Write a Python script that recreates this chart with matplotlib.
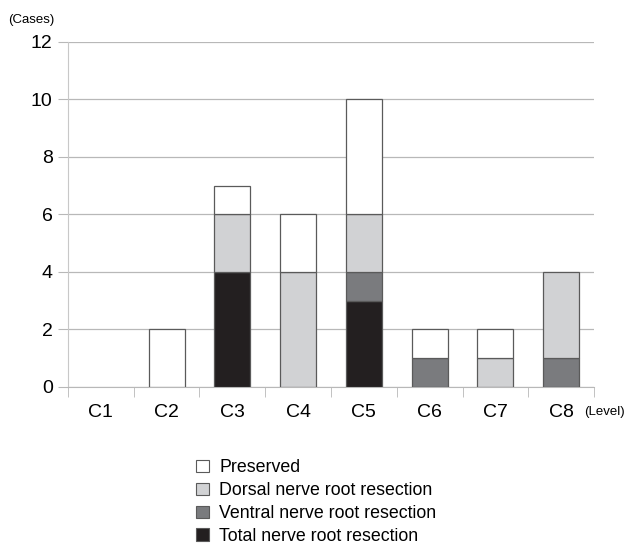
import matplotlib.pyplot as plt
from matplotlib.patches import Patch
import numpy as np

plt.rcParams['font.family'] = ['Liberation Sans', 'DejaVu Sans']

levels = ['C1', 'C2', 'C3', 'C4', 'C5', 'C6', 'C7', 'C8']
total = [0, 0, 4, 0, 3, 0, 0, 0]
ventral = [0, 0, 0, 0, 1, 1, 0, 1]
dorsal = [0, 0, 2, 4, 2, 0, 1, 3]
preserved = [0, 2, 1, 2, 4, 1, 1, 0]

series = [
    ('Total nerve root resection', total, '#231f20'),
    ('Ventral nerve root resection', ventral, '#7a7b7e'),
    ('Dorsal nerve root resection', dorsal, '#d1d2d4'),
    ('Preserved', preserved, '#ffffff'),
]

fig = plt.figure(figsize=(6.26, 5.59), dpi=100)
ax = fig.add_axes([0.1086, 0.3077, 0.8403, 0.6172])

x = np.arange(len(levels))
bottom = np.zeros(len(levels))
for name, vals, color in series:
    vals = np.array(vals, dtype=float)
    nz = vals > 0  # skip empty segments so no outline is drawn
    ax.bar(x[nz], vals[nz], bottom=bottom[nz], width=0.55, color=color,
           edgecolor='#5a5a5a', linewidth=0.9, zorder=3)
    bottom += vals

ax.set_xlim(-0.5, len(levels) - 0.5)
ax.set_ylim(0, 12)
ax.set_yticks(range(0, 13, 2))
ax.yaxis.grid(True, color='#b8b8b8', linewidth=0.9, zorder=0)
ax.tick_params(axis='y', length=7, color='#b8b8b8', labelsize=14, pad=4)

ax.set_xticks(x)
ax.set_xticklabels(levels)
ax.set_xticks(np.arange(len(levels) + 1) - 0.5, minor=True)
ax.tick_params(axis='x', which='major', length=0, labelsize=14, pad=12)
ax.tick_params(axis='x', which='minor', length=7, color='#b8b8b8')

for side in ['top', 'right']:
    ax.spines[side].set_visible(False)
ax.spines['left'].set_color('#c8c8c8')
ax.spines['bottom'].set_color('#b8b8b8')

fig.text(0.013, 0.958, '(Cases)', fontsize=9.5)
fig.text(0.965, 0.258, '(Level)', fontsize=9.5, ha='center')

handles = [Patch(facecolor=c, edgecolor='#5a5a5a', linewidth=0.8, label=n)
           for n, _, c in reversed(series)]
fig.legend(handles=handles, loc='upper left', bbox_to_anchor=(0.302, 0.191),
           frameon=False, fontsize=12.8, handlelength=0.7, handleheight=0.7,
           handletextpad=0.6, labelspacing=0.33, borderaxespad=0)

fig.savefig('out.png', dpi=100)
